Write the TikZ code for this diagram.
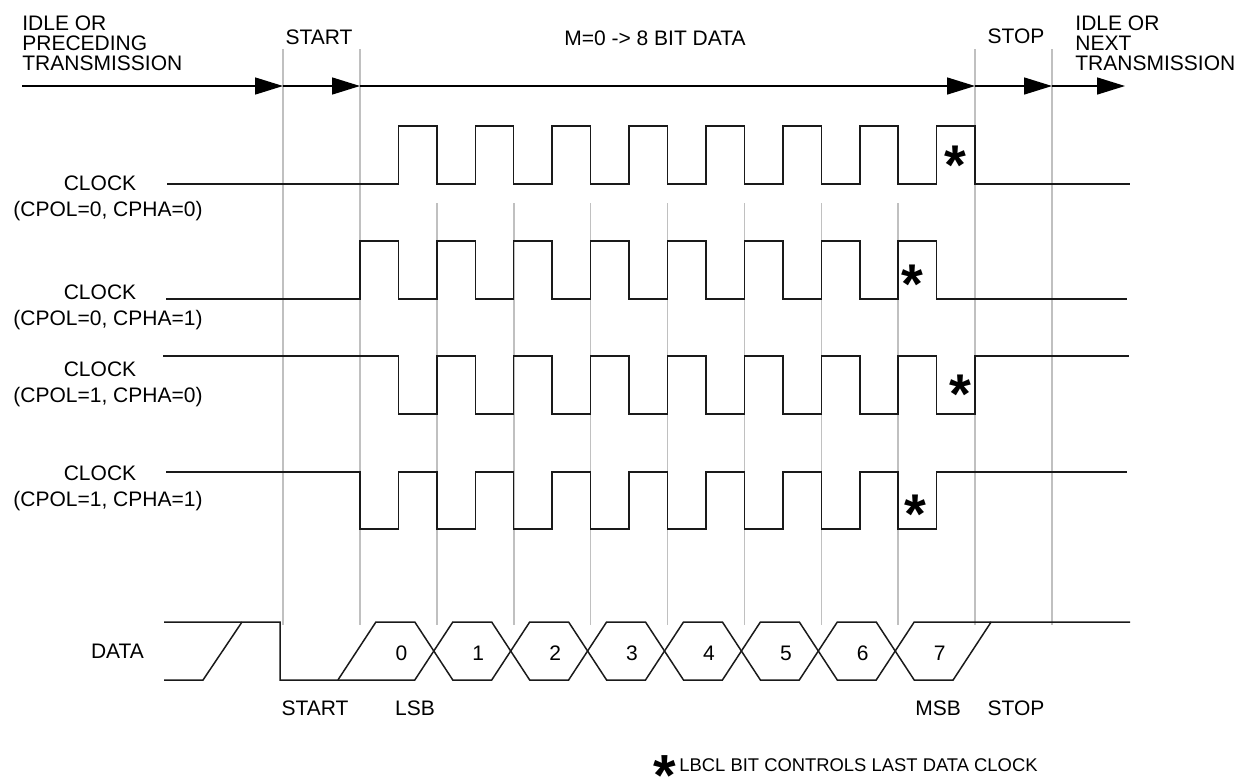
\documentclass[tikz,border=0pt]{standalone}
\usepackage{fontspec}
\setmainfont{Liberation Sans}
\usetikzlibrary{arrows.meta, positioning}
\definecolor{cguide}{HTML}{C0C0C0}
\definecolor{cwave}{HTML}{1A1A1A}
\tikzset{
  every picture/.style={font=\fontsize{10.5}{10}\selectfont},
  guide/.style={draw=cguide, line width=0.8pt},
  sig/.style={draw=cwave, line width=0.75pt},
  flow/.style={-{Triangle[length=14pt, width=8.5pt]}, draw=black, line width=0.75pt},
  lbl/.style={inner sep=0pt, anchor=base},
  hdr/.style={inner sep=0pt, anchor=north west, align=left},
  lbclstar/.style={font=\fontsize{28}{28}\selectfont\bfseries, inner sep=0pt, anchor=base, yshift=-13.5pt},
}

\begin{document}
\begin{tikzpicture}[x=0.5pt, y=-0.5pt]
  \useasboundingbox (0,0) rectangle (1241,783);
  % bit boundaries
  \foreach \x in {283,360,975,1052} \draw[guide] (\x,49) -- (\x,625);
  \foreach \k in {2,...,8} \draw[guide] ({283+76.9*\k},203) -- ({283+76.9*\k},625);
  % frame arrow on top
  \coordinate (t0) at (22,86);
  \coordinate (t1) at (283,86);
  \coordinate (t2) at (360,86);
  \coordinate (t3) at (975,86);
  \coordinate (t4) at (1052,86);
  \coordinate (t5) at (1125,86);
  \draw[flow] (t0) -- (t1);
  \draw[flow] (t1) -- (t2);
  \draw[flow] (t2) -- (t3);
  \draw[flow] (t3) -- (t4);
  \draw[flow] (t4) -- (t5);
  \node[hdr] (idlein) at (22,15.5) {IDLE OR\\PRECEDING\\TRANSMISSION};
  \node[lbl] (startbit) at (319,44.5) {START};
  \node[lbl] (databits) at (655,45.5) {M=0 -> 8 BIT DATA};
  \node[lbl] (stopbit) at (1016,43.5) {STOP};
  \node[hdr] (idleout) at (1075,15.5) {IDLE OR\\NEXT\\TRANSMISSION};
  % clock labels
  \foreach \n/\y/\p/\q in {A/190.7/0/0, B/299.3/0/1, C/376.7/1/0, D/480.7/1/1} {
    \node[lbl] (clk\n) at (100,\y) {CLOCK};
    \node[lbl] (cfg\n) at (108,{\y+26}) {(CPOL=\p, CPHA=\q)};
  }
  % CPOL=0, CPHA=0
  \draw[sig] (167,184) \foreach \k in {1,...,8} {
    -- ({283+76.9*\k+38.45},184) -- ({283+76.9*\k+38.45},126)
    -- ({283+76.9*(\k+1)},126) -- ({283+76.9*(\k+1)},184) } -- (1130,184);
  % CPOL=0, CPHA=1
  \draw[sig] (166,299) \foreach \k in {1,...,8} {
    -- ({283+76.9*\k},299) -- ({283+76.9*\k},241)
    -- ({283+76.9*\k+38.45},241) -- ({283+76.9*\k+38.45},299) } -- (1127,299);
  % CPOL=1, CPHA=0
  \draw[sig] (163,356) \foreach \k in {1,...,8} {
    -- ({283+76.9*\k+38.45},356) -- ({283+76.9*\k+38.45},414)
    -- ({283+76.9*(\k+1)},414) -- ({283+76.9*(\k+1)},356) } -- (1129,356);
  % CPOL=1, CPHA=1
  \draw[sig] (166,472) \foreach \k in {1,...,8} {
    -- ({283+76.9*\k},472) -- ({283+76.9*\k},529)
    -- ({283+76.9*\k+38.45},529) -- ({283+76.9*\k+38.45},472) } -- (1127,472);
  \node[lbclstar] (lastA) at (955,157) {*};
  \node[lbclstar] (lastB) at (912,276) {*};
  \node[lbclstar] (lastC) at (960,386) {*};
  \node[lbclstar] (lastD) at (915,506) {*};
  % data line
  \node[lbl] (datalbl) at (117.5,658.3) {DATA};
  \draw[sig] (164,680) -- (203,680) -- (242,622);
  \draw[sig] (164,622) -- (280,622) -- (280,680) -- ({280+76.9-19},680)
    \foreach \k in {1,3,5,7} {
      -- ({280+76.9*\k+19},622) -- ({280+76.9*(\k+1)-19},622)
      -- ({280+76.9*(\k+1)+19},680) -- ({280+76.9*(\k+2)-19},680) }
    -- ({280+76.9*9+19},622) -- (1130,622);
  \draw[sig] ({280+76.9-19},680)
    \foreach \k in {2,4,6} {
      -- ({280+76.9*\k-19},680) -- ({280+76.9*\k+19},622)
      -- ({280+76.9*(\k+1)-19},622) -- ({280+76.9*(\k+1)+19},680) }
    -- ({280+76.9*8-19},680) -- ({280+76.9*8+19},622) -- ({280+76.9*9+19},622);
  \foreach \b in {0,...,7} \node[inner sep=0pt] (bit\b) at ({401.35+76.9*\b},653) {\b};
  \node[lbl] (startlbl) at (315,715) {START};
  \node[lbl] (lsblbl) at (415,715) {LSB};
  \node[lbl] (msblbl) at (938,715) {MSB};
  \node[lbl] (stoplbl) at (1016,715) {STOP};
  % footnote
  \node[lbl, anchor=base west, font=\fontsize{9.2}{10}\selectfont] (fnote) at (679,771) {LBCL BIT CONTROLS LAST DATA CLOCK};
  \node[lbclstar, font=\fontsize{29}{29}\selectfont\bfseries, yshift=-0.5pt] (fnstar) at (665,767) {*};
\end{tikzpicture}
\end{document}
